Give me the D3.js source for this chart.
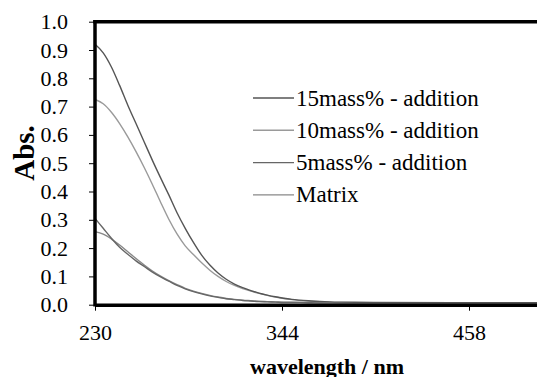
<!DOCTYPE html>
<html>
<head>
<meta charset="utf-8">
<script src="https://cdn.jsdelivr.net/npm/d3@7"></script>
<style>
	html, body { margin: 0; padding: 0; background: #fff; overflow: hidden; }
	svg text { font-family: "Liberation Serif", Tinos, "Times New Roman", Times, "DejaVu Serif", serif; }
</style>
</head>
<body>
<div class="chart"></div>
<script>
// wavelength (nm) shared by every series
var wavelengths = [230,235,240,245,250,255,260,265,270,275,280,285,290,295,300,305,
	310,315,320,325,330,335,340,345,350,360,370,380,400,450,500,572];

var abs15 = [.920,.890,.840,.775,.705,.640,.575,.510,.448,.388,.325,.270,.220,.175,.140,.112,
	.090,.073,.060,.050,.041,.034,.028,.023,.019,.014,.011,.009,.008,.007,.007,.007];
var abs10 = [.725,.710,.680,.640,.593,.541,.485,.425,.362,.302,.250,.208,.177,.148,.122,.100,
	.082,.068,.057,.048,.040,.033,.027,.022,.018,.013,.010,.008,.007,.006,.006,.006];
var abs5 = [.305,.270,.235,.203,.178,.155,.135,.115,.098,.083,.068,.056,.046,.038,.031,.026,
	.021,.018,.015,.013,.011,.010,.009,.008,.008,.007,.007,.006,.006,.005,.005,.005];
var absMatrix = [.258,.249,.232,.211,.187,.163,.140,.119,.101,.085,.071,.058,.048,.040,.033,.027,
	.022,.019,.016,.014,.012,.011,.010,.009,.009,.008,.007,.007,.007,.006,.006,.006];

var seriesNames = ["15mass% - addition", "10mass% - addition", "5mass% - addition", "Matrix"];
var seriesColors = ["#555", "#9a9a9a", "#666", "#888"];
var xTicks = [230, 344, 458];
var yTicks = [0, .1, .2, .3, .4, .5, .6, .7, .8, .9, 1.0];

function draw() {
	var width = 537, height = 377;
	var left = 95, plotTop = 21.7, bottom = 304.7;

	var svg = d3.select(".chart").append("svg")
		.attr("width", width)
		.attr("height", height)
		.style("display", "block");

	var x = d3.scaleLinear()
		.domain([230, 572])
		.range([left, left + 561]);

	var y = d3.scaleLinear()
		.domain([0, 1])
		.range([bottom, plotTop]);

	//series in drawing order
	var series = [abs15, abs10, abs5, absMatrix].map(function(vals, i) {
		return {
			name: seriesNames[i],
			color: seriesColors[i],
			data: wavelengths.map(function(w, j) { return {t: w, v: vals[j]}; })
		};
	});

	var line = d3.line()
		.curve(d3.curveMonotoneX)
		.x(function(d) { return x(d.t); })
		.y(function(d) { return y(d.v); });

	svg.append("g").attr("class", "line-group")
		.selectAll("path")
		.data(series.slice().reverse())
		.enter().append("path")
		.attr("d", function(s) { return line(s.data); })
		.attr("fill", "none")
		.attr("stroke", function(s) { return s.color; })
		.attr("stroke-width", 1.4);

	//frame top
	svg.append("line")
		.attr("x1", left - 1.75).attr("x2", x(572))
		.attr("y1", plotTop).attr("y2", plotTop)
		.attr("stroke", "#000")
		.attr("stroke-width", 3.5);

	var yAxis = d3.axisLeft(y)
		.tickValues(yTicks)
		.tickFormat(d3.format(".1f"))
		.tickSize(6)
		.tickSizeOuter(0)
		.tickPadding(21);

	var gy = svg.append("g")
		.attr("transform", "translate(" + left + ",0)")
		.call(yAxis);

	var xAxis = d3.axisBottom(x)
		.tickValues(xTicks)
		.tickFormat(d3.format("d"))
		.tickSize(6)
		.tickSizeOuter(0)
		.tickPadding(14);

	var gx = svg.append("g")
		.attr("transform", "translate(0," + bottom + ")")
		.call(xAxis);

	[gx, gy].map(function(g) {
		g.attr("font-family", null).attr("font-size", 22);
		g.select(".domain").attr("stroke-width", 3.5).attr("stroke", "#000");
		g.selectAll(".tick line").attr("stroke", "#000").attr("stroke-width", 1);
		g.selectAll(".tick text").attr("fill", "#000");
	});
	gy.select(".domain").attr("d", "M0," + (plotTop - 1.75) + "V" + (bottom + 1.75));

	//legend
	var legend = svg.append("g").attr("class", "legend");
	series.map(function(s, i) {
		var ly = 98 + i * 32.3;
		legend.append("line")
			.attr("x1", 253).attr("x2", 294)
			.attr("y1", ly).attr("y2", ly)
			.attr("stroke", s.color)
			.attr("stroke-width", 1.4);
		legend.append("text")
			.attr("x", 296)
			.attr("y", ly + 7.5)
			.attr("font-size", 23)
			.text(s.name);
	});

	//axis titles
	svg.append("text")
		.attr("x", 327)
		.attr("y", 374)
		.attr("text-anchor", "middle")
		.attr("font-size", 22)
		.attr("font-weight", "bold")
		.text("wavelength / nm");

	svg.append("text")
		.attr("transform", "translate(34,153) rotate(-90)")
		.attr("text-anchor", "middle")
		.attr("font-size", 29)
		.attr("font-weight", "bold")
		.text("Abs.");
}

draw();
</script>
</body>
</html>
